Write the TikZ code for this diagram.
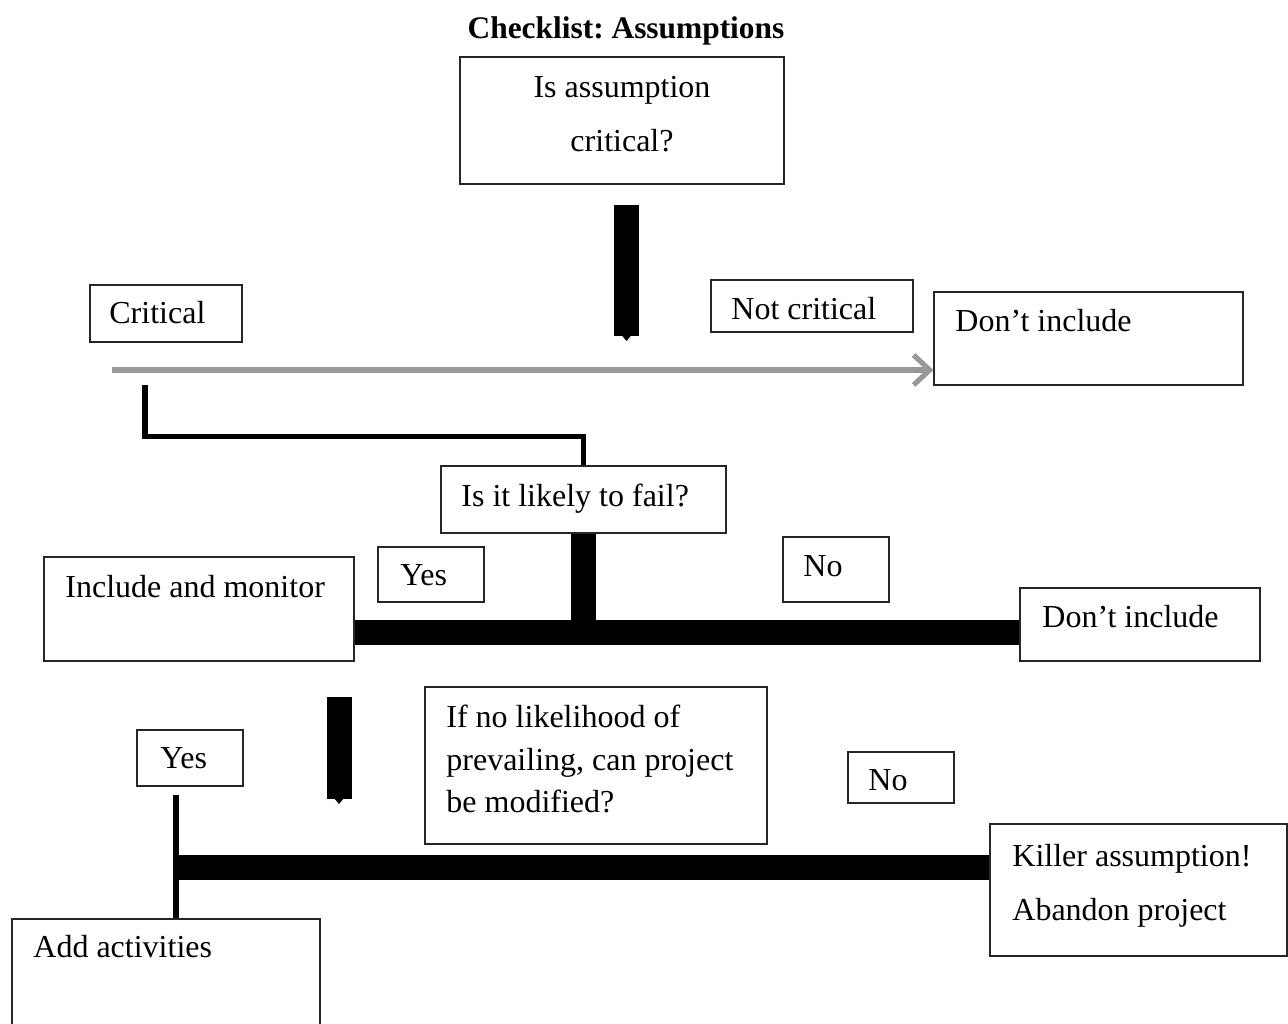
\documentclass[tikz,border=0pt]{standalone}
\usepackage{fontspec}
\setmainfont{Liberation Serif}
\usetikzlibrary{arrows.meta, calc}

\tikzset{
  box/.style={draw=black!85, line width=0.6pt, inner sep=0pt},
  boxsize/.style 2 args={minimum width=#1, minimum height=#2},
  txt/.style={anchor=base west, inner sep=0pt, font=\fontsize{16}{19}\selectfont},
  bar/.style={line width=12.5pt},
  bartip/.style={line width=12.5pt, -{Triangle[length=2.5pt, width=4pt]}},
  elbow/.style={line width=2.6pt},
  grayarrow/.style={color=black!40, line width=2.6pt, -{Straight Barb[length=8pt, width=15pt, line width=2.6pt]}}
}

\begin{document}
\frenchspacing
\begin{tikzpicture}[x=0.5pt, y=-0.5pt]
\useasboundingbox (0,0) rectangle (1288,1023);
% title
\node[txt, anchor=base, font=\fontsize{15.7}{18}\bfseries] (title) at (626,38) {Checklist: Assumptions};
% boxes
\node[box, boxsize={162pt}{63.5pt}] (q1) at (622,120.5) {};
\node[box, boxsize={76pt}{28.5pt}] (crit) at (166,313.5) {};
\node[box, boxsize={101pt}{26pt}] (notcrit) at (812,306) {};
\node[box, boxsize={154.5pt}{46.5pt}] (dont1) at (1088.5,338.5) {};
\node[box, boxsize={142.5pt}{33.5pt}] (likely) at (583.5,499.5) {};
\node[box, boxsize={53pt}{27.5pt}] (yes1) at (431,574.5) {};
\node[box, boxsize={53pt}{32.5pt}] (no1) at (836,569.5) {};
\node[box, boxsize={155pt}{52pt}] (include) at (199,609) {};
\node[box, boxsize={120pt}{36.5pt}] (dont2) at (1140,624.5) {};
\node[box, boxsize={171pt}{78.5pt}] (modify) at (596,765.5) {};
\node[box, boxsize={53pt}{28pt}] (yes2) at (190,758) {};
\node[box, boxsize={53pt}{25.5pt}] (no2) at (901,777.5) {};
\node[box, boxsize={148.5pt}{66pt}] (killer) at (1138.5,890) {};
\node[box, boxsize={154pt}{55.5pt}] (add) at (166,974.5) {};
% texts
\node[txt, anchor=base] at (622,97) {Is assumption};
\node[txt, anchor=base] at (622,151) {critical?};
\node[txt] at (109,323) {Critical};
\node[txt] at (731,319) {Not critical};
\node[txt] at (955,331) {Don’t include};
\node[txt] at (461,506) {Is it likely to fail?};
\node[txt] at (400,585) {Yes};
\node[txt] at (803,576) {No};
\node[txt] at (65,597) {Include and monitor};
\node[txt] at (1042,627) {Don’t include};
\node[txt] at (446,727) {If no likelihood of};
\node[txt] at (446,770) {prevailing, can project};
\node[txt] at (446,812) {be modified?};
\node[txt] at (160,768) {Yes};
\node[txt] at (868,790) {No};
\node[txt] at (1012,866) {Killer assumption!};
\node[txt] at (1012,920) {Abandon project};
\node[txt] at (33,957) {Add activities};
% connectors
\coordinate (bar1top) at (626.5,205);
\coordinate (bar1end) at (626.5,341);
\draw[bartip] (bar1top) -- (bar1end);
\coordinate (gstart) at (112,370);
\draw[grayarrow] (gstart) -- (gstart -| dont1.west);
\coordinate (lstart) at (145,385);
\draw[elbow] (lstart) |- ($(likely.north)+(0,-29)$) -- (likely.north);
\coordinate (tjoin) at (582.5,632.5);
\draw[bar] (likely.south) -- (likely.south |- tjoin);
\draw[bar] (tjoin -| include.east) -- (tjoin -| dont2.west);
\coordinate (bar2top) at (339,697);
\coordinate (bar2end) at (339,804);
\draw[bartip] (bar2top) -- (bar2end);
\coordinate (vstart) at (176,795);
\draw[elbow] (vstart) -- (vstart |- add.north);
\coordinate (hjoin) at (176,867.5);
\draw[bar] ($(hjoin)+(-1,0)$) -- (hjoin -| killer.west);
\end{tikzpicture}
\end{document}
